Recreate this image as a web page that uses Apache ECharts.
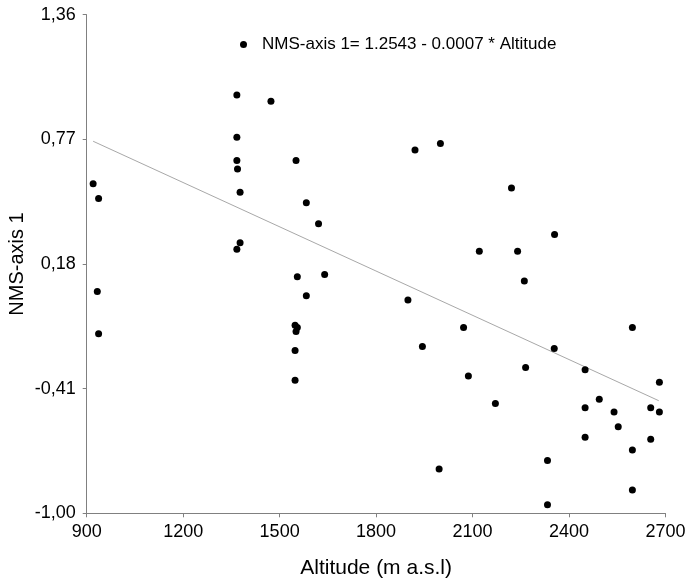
<!DOCTYPE html>
<html>
<head>
<meta charset="utf-8">
<script src="https://cdn.jsdelivr.net/npm/echarts@6/dist/echarts.min.js"></script>
<style>
html,body{margin:0;padding:0;background:#fff;}
#chart{width:690px;height:578px;}
</style>
</head>
<body>
<div id="chart"></div>
<script>
var altitude = [920, 937, 933, 937, 1367, 1473, 1367, 1367, 1369, 1377, 1377, 1367,
  1551, 1583, 1621, 1555, 1583, 1640, 1548, 1555, 1551, 1548, 1548,
  1921, 2000, 2221, 2121, 2240, 2355, 2261, 1899, 1944, 2072, 2087, 2171, 1996,
  2265, 2333, 2333, 2597, 2354, 2450, 2681, 2494, 2450, 2540, 2553, 2654, 2681,
  2450, 2654, 2597, 2597];
var nmsAxis1 = [0.56, 0.49, 0.05, -0.15, 0.98, 0.95, 0.78, 0.67, 0.63, 0.52, 0.28, 0.25,
  0.67, 0.47, 0.37, 0.12, 0.03, 0.13, -0.11, -0.12, -0.14, -0.23, -0.37,
  0.72, 0.75, 0.54, 0.24, 0.24, 0.32, 0.10, 0.01, -0.21, -0.12, -0.35, -0.48, -0.79,
  -0.31, -0.75, -0.96, -0.12, -0.22, -0.32, -0.38, -0.46, -0.50, -0.52, -0.59, -0.50, -0.52,
  -0.64, -0.65, -0.70, -0.89];
var fitX = [920, 2679];
var fitY = [0.761, -0.467];
var xTicks = [900, 1200, 1500, 1800, 2100, 2400, 2700];
var yTicks = [-1.00, -0.41, 0.18, 0.77, 1.36];
var seriesName = 'NMS-axis 1= 1.2543 - 0.0007 * Altitude';

var points = altitude.map(function (a, i) { return [a, nmsAxis1[i]]; });
var fitLine = fitX.map(function (a, i) { return [a, fitY[i]]; });

var chart = echarts.init(document.getElementById('chart'));
var font = 'Liberation Sans, Arial, sans-serif';
chart.setOption({
  animation: false,
  backgroundColor: '#fff',
  grid: {left: 86.7, right: 24.5, top: 14.7, bottom: 64.7, containLabel: false, outerBoundsMode: 'none'},
  legend: {
    data: [seriesName],
    left: 235, top: 31,
    icon: 'circle', itemWidth: 7, itemHeight: 7,
    textStyle: {fontFamily: font, fontSize: 17, color: '#000', padding: [0, 0, 0, 10]}
  },
  xAxis: {
    type: 'value', min: xTicks[0], max: xTicks[xTicks.length - 1], interval: 300,
    name: 'Altitude (m a.s.l)', nameLocation: 'middle', nameGap: 44,
    nameTextStyle: {fontFamily: font, fontSize: 21, color: '#000'},
    axisLine: {show: true, onZero: false, lineStyle: {color: '#808080', width: 1}},
    axisTick: {show: true, length: 4, inside: false, lineStyle: {color: '#808080'}},
    axisLabel: {fontFamily: font, fontSize: 18, color: '#000', margin: 10,
      formatter: function (v) { return String(v); }},
    splitLine: {show: false}
  },
  yAxis: {
    type: 'value', min: yTicks[0], max: yTicks[yTicks.length - 1],
    name: 'NMS-axis 1', nameLocation: 'middle', nameGap: 59, nameRotate: 90, nameMoveOverlap: false,
    nameTextStyle: {fontFamily: font, fontSize: 20, color: '#000'},
    axisLine: {show: true, onZero: false, lineStyle: {color: '#808080', width: 1}},
    axisTick: {show: true, length: 4, customValues: yTicks, lineStyle: {color: '#808080'}},
    axisLabel: {fontFamily: font, fontSize: 18, color: '#000', margin: 11, customValues: yTicks,
      formatter: function (v) { return v.toFixed(2).replace('.', ','); }},
    splitLine: {show: false}
  },
  series: [
    {
      name: seriesName, type: 'scatter', data: points,
      symbol: 'circle', symbolSize: 7,
      itemStyle: {color: '#000', opacity: 1}, z: 3
    },
    {
      name: 'fit', type: 'line', data: fitLine, showSymbol: false, symbol: 'none',
      lineStyle: {color: '#a8a8a8', width: 1}, z: 2, silent: true
    }
  ]
});
</script>
</body>
</html>
